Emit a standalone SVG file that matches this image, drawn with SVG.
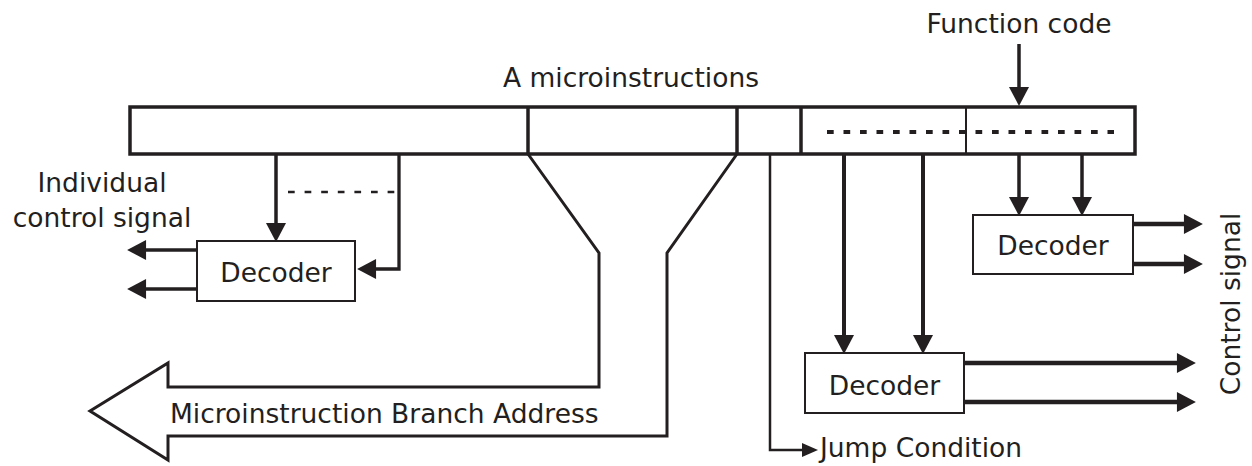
<svg xmlns="http://www.w3.org/2000/svg" width="1252" height="466" viewBox="0 0 1252 466">
<style>
text{font-family:"DejaVu Sans",Verdana,sans-serif;font-size:26.5px;fill:#231f20}
.ln{stroke:#231f20;fill:none}
.box{fill:#fff;stroke:#231f20;stroke-width:2}
</style>
<defs>
<marker id="ah" markerUnits="userSpaceOnUse" markerWidth="20" markerHeight="20" viewBox="0 0 18 19" refX="1" refY="9.5" orient="auto"><path d="M0,0L18,9.5L0,19z" fill="#231f20"/></marker>
<marker id="ahs" markerUnits="userSpaceOnUse" markerWidth="16" markerHeight="14" viewBox="0 0 16 14" refX="1" refY="7" orient="auto"><path d="M0,0L16,7L0,14z" fill="#231f20"/></marker>
</defs>
<g id="microinstruction">
<rect x="130" y="107" width="1005" height="47" fill="#fff" stroke="#231f20" stroke-width="3.5"/>
<line class="ln" x1="528" y1="107" x2="528" y2="154" stroke-width="3.5"/>
<line class="ln" x1="737" y1="107" x2="737" y2="154" stroke-width="3.5"/>
<line class="ln" x1="801" y1="107" x2="801" y2="154" stroke-width="3.5"/>
<line class="ln" x1="966" y1="107" x2="966" y2="154" stroke-width="2"/>
<line class="ln" x1="827" y1="132" x2="1114" y2="132" stroke-width="4" stroke-dasharray="6.7 9.8"/>
<text x="631" y="87" text-anchor="middle">A microinstructions</text>
</g>
<g id="function-code"><text x="1019" y="33" text-anchor="middle">Function code</text></g>
<g id="decoder-left"><rect class="box" x="197" y="241" width="158" height="60"/><text x="276" y="282" text-anchor="middle">Decoder</text></g>
<g id="decoder-bottom"><rect class="box" x="805" y="353" width="159" height="60"/><text x="884.5" y="395" text-anchor="middle">Decoder</text></g>
<g id="decoder-right"><rect class="box" x="973" y="215" width="160" height="59"/><text x="1053" y="255" text-anchor="middle">Decoder</text></g>
<g id="label-individual"><text x="102" y="192" text-anchor="middle">Individual</text><text x="102" y="227" text-anchor="middle">control signal</text></g>
<g id="label-control"><text transform="translate(1240,304) rotate(-90)" text-anchor="middle">Control signal</text></g>
<g id="label-jump"><text x="820" y="457">Jump Condition</text></g>
<g id="label-branch"><text x="170" y="423">Microinstruction Branch Address</text></g>
<g id="connectors">
<line class="ln" x1="1019" y1="44" x2="1019" y2="88" stroke-width="3.5" marker-end="url(#ah)"/>
<line class="ln" x1="276" y1="154" x2="276" y2="224" stroke-width="3.5" marker-end="url(#ah)"/>
<polyline class="ln" points="399,154 399,269 375,269" stroke-width="3.3" marker-end="url(#ah)"/>
<line class="ln" x1="288" y1="192" x2="395" y2="192" stroke-width="2.5" stroke-dasharray="6.7 9.9"/>
<line class="ln" x1="197" y1="250" x2="145" y2="250" stroke-width="3.5" marker-end="url(#ah)"/>
<line class="ln" x1="197" y1="289" x2="145" y2="289" stroke-width="3.5" marker-end="url(#ah)"/>
<polyline class="ln" points="528,154 599,253 599,387 168,387 168,363 90,411 168,460 168,436 667,436 667,253 737,154" stroke-width="3" stroke-linejoin="miter"/>
<polyline class="ln" points="770,154 770,450 803,450" stroke-width="2.5" marker-end="url(#ahs)"/>
<line class="ln" x1="844" y1="154" x2="844" y2="336" stroke-width="4" marker-end="url(#ah)"/>
<line class="ln" x1="923" y1="154" x2="923" y2="336" stroke-width="4" marker-end="url(#ah)"/>
<line class="ln" x1="1019" y1="154" x2="1019" y2="198" stroke-width="3.5" marker-end="url(#ah)"/>
<line class="ln" x1="1082" y1="154" x2="1082" y2="198" stroke-width="3.5" marker-end="url(#ah)"/>
<line class="ln" x1="1133" y1="224" x2="1185" y2="224" stroke-width="4.5" marker-end="url(#ah)"/>
<line class="ln" x1="1133" y1="264" x2="1185" y2="264" stroke-width="4.5" marker-end="url(#ah)"/>
<line class="ln" x1="964" y1="363" x2="1178" y2="363" stroke-width="4.5" marker-end="url(#ah)"/>
<line class="ln" x1="964" y1="402" x2="1178" y2="402" stroke-width="4.5" marker-end="url(#ah)"/>
</g>
</svg>
